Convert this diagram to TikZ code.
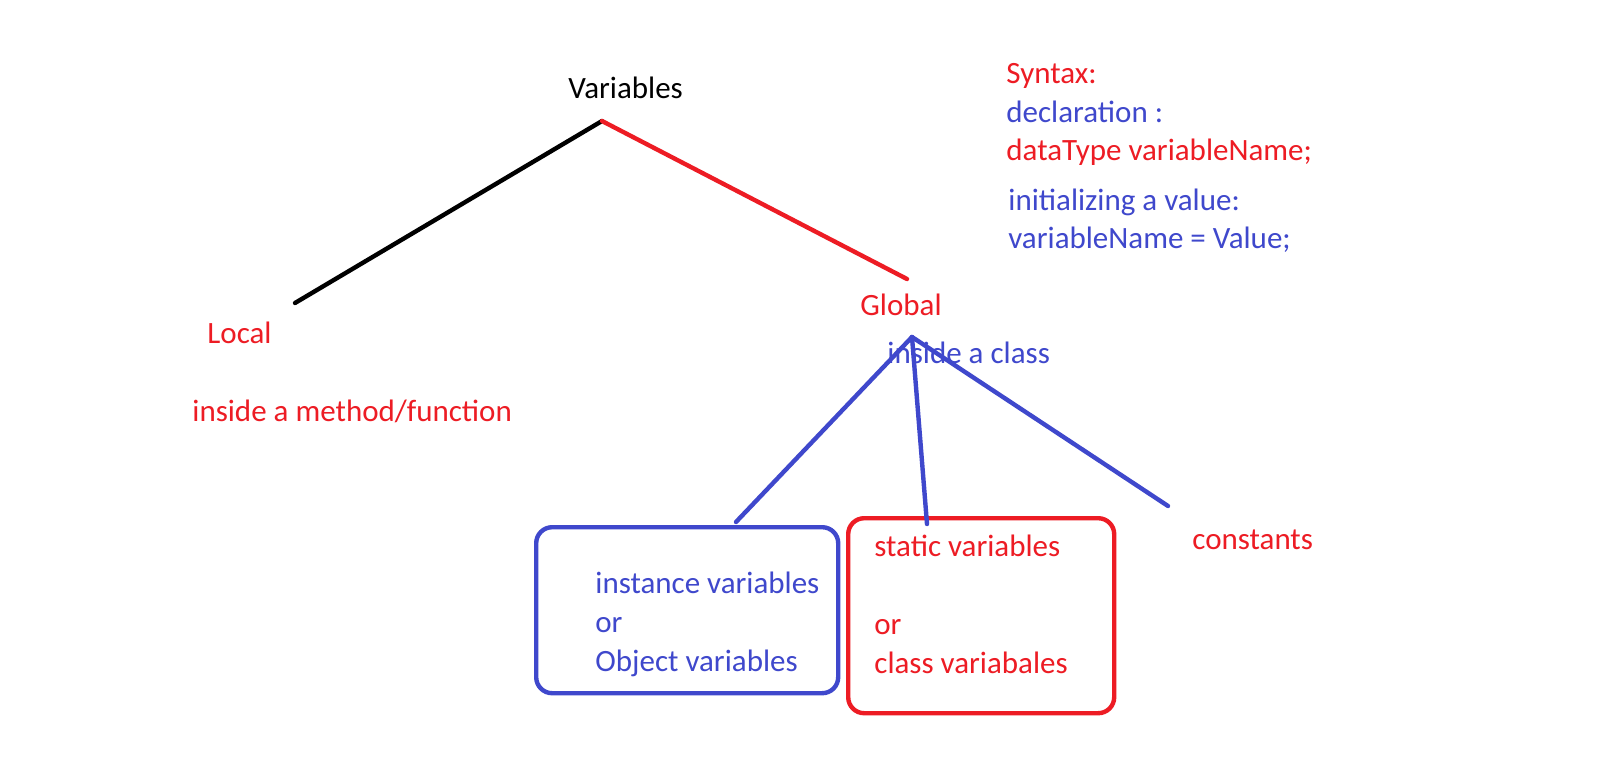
\documentclass[tikz,border=0pt]{standalone}
\usepackage{fontspec}
\setmainfont{Carlito}
\usetikzlibrary{positioning}
\definecolor{paintred}{RGB}{237,28,36}
\definecolor{paintblue}{RGB}{63,72,204}

\begin{document}
\begin{tikzpicture}[x=0.5pt, y=-0.5pt,
  txt/.style={anchor=base west, inner sep=0pt, align=left, font=\fontsize{15.5}{19.5}\selectfont},
  redtxt/.style={txt, text=paintred},
  bluetxt/.style={txt, text=paintblue},
  stroke/.style={line width=2.2pt, line cap=round},
  varbox/.style={draw, line width=2.2pt, rounded corners=8pt, anchor=north west, inner sep=0pt}]
\path[fill=white, use as bounding box] (0,0) rectangle (1611,776);

% tree labels
\node (vars) [txt] at (568,98) {Variables};
\node (local) [redtxt] at (207,343) {Local};
\node (localnote) [redtxt] at (192,421) {inside a method/function};
\node (global) [redtxt] at (860,315) {Global};
\node (globalnote) [bluetxt] at (887,363) {inside a class};
\node (const) [redtxt] at (1192,549) {constants};

% syntax notes
\node (syn1) [redtxt] at (1006,83) {Syntax:};
\node (syn2) [bluetxt] at (1006,122) {declaration :};
\node (syn3) [redtxt] at (1006,160) {dataType variableName;};
\node (syn4) [bluetxt] at (1008,210) {initializing a value:};
\node (syn5) [bluetxt] at (1008,248) {variableName = Value;};

% boxes (base of a multi-line node = last line)
\node (instbox) [varbox, draw=paintblue, minimum width=151pt, minimum height=83pt] at (534,525) {};
\node (inst) [bluetxt] at (595,671) {instance variables\\or\\Object variables};
\node (statbox) [varbox, draw=paintred, minimum width=133pt, minimum height=97.5pt] at (846,516) {};
\node (stat) [redtxt] at (874,673) {static variables\\[19.5pt]or\\class variabales};

% branch points
\coordinate (vroot) at (602,121);
\coordinate (lend) at (295,303);
\coordinate (gend) at (907,279);
\coordinate (groot) at (912,337);
\coordinate (instend) at (736,522);
\coordinate (statend) at (927,524);
\coordinate (constend) at (1168,506);

\draw [stroke] (vroot) -- (lend);
\draw [stroke, paintred] (vroot) -- (gend);
\draw [stroke, paintblue] (groot) -- (instend);
\draw [stroke, paintblue] (groot) -- (statend);
\draw [stroke, paintblue] (groot) -- (constend);
\end{tikzpicture}
\end{document}
